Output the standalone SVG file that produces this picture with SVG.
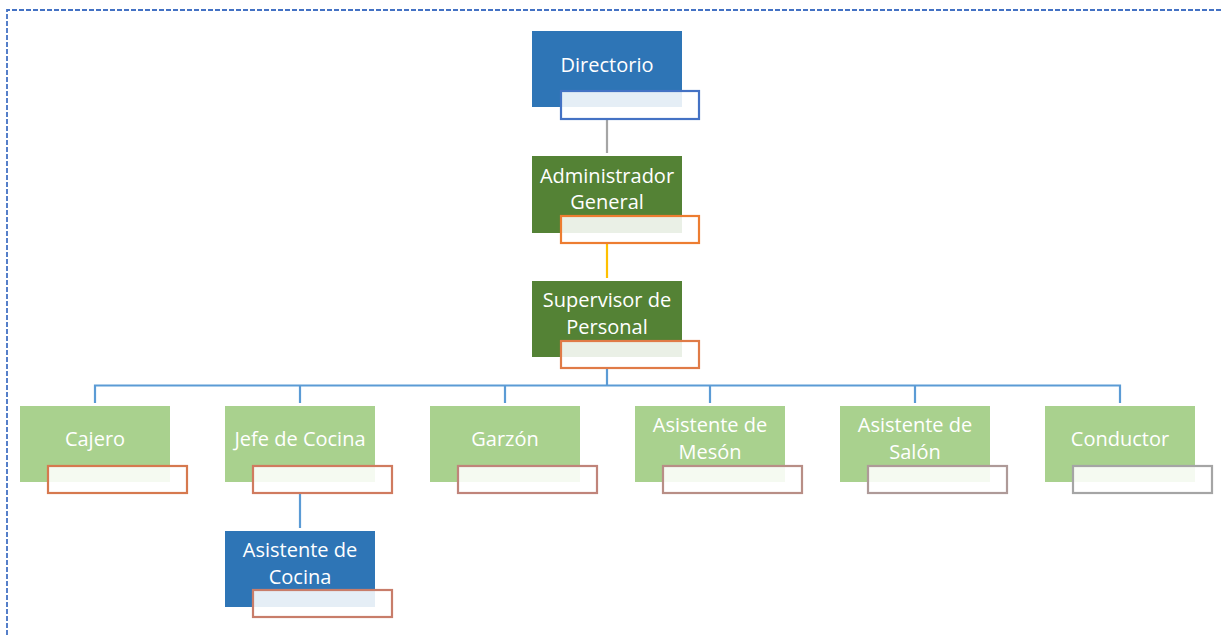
<svg xmlns="http://www.w3.org/2000/svg" width="1221" height="635" viewBox="0 0 1221 635">
  <style>
    .frame { fill: none; stroke: #4472C4; stroke-width: 1.8; stroke-dasharray: 5 2; }
    .link { fill: none; stroke-width: 2.2; }
    .blue { fill: #2E75B6; }
    .dark { fill: #548235; }
    .light { fill: #A9D18E; }
    .tag { fill: #FFFFFF; fill-opacity: 0.88; stroke-width: 2.2; }
    text { font-family: "Open Sans", "Liberation Sans", Arial, sans-serif; font-size: 20px; fill: #FFFFFF; text-anchor: middle; }
  </style>

  <rect width="1221" height="635" fill="#FFFFFF"/>

  <!-- dashed frame -->
  <path class="frame" d="M7,635 V10 H1221"/>

  <!-- connectors -->
  <g id="connectors">
    <path class="link" stroke="#A5A5A5" d="M607,119 V153"/>
    <path class="link" stroke="#FFC000" d="M607,243 V278"/>
    <path class="link" stroke="#5B9BD5" d="M607,368 V385.5 M95,403 V385.5 H1120 V403 M300,385.5 V403 M505,385.5 V403 M710,385.5 V403 M915,385.5 V403"/>
    <path class="link" stroke="#5B9BD5" d="M300,493 V528"/>
  </g>

  <g id="directorio">
    <rect class="blue" x="532" y="31" width="150" height="76"/>
    <text x="607" y="72">Directorio</text>
    <rect class="tag" stroke="#4472C4" x="561" y="91" width="138" height="28"/>
  </g>

  <g id="administrador">
    <rect class="dark" x="532" y="156" width="150" height="77"/>
    <text x="607" y="183">Administrador</text>
    <text x="607" y="209">General</text>
    <rect class="tag" stroke="#ED7D31" x="561" y="216" width="138" height="27"/>
  </g>

  <g id="supervisor">
    <rect class="dark" x="532" y="281" width="150" height="76"/>
    <text x="607" y="307">Supervisor de</text>
    <text x="607" y="334">Personal</text>
    <rect class="tag" stroke="#E07B47" x="561" y="341" width="138" height="27"/>
  </g>

  <g id="cajero">
    <rect class="light" x="20" y="406" width="150" height="76"/>
    <text x="95" y="446">Cajero</text>
    <rect class="tag" stroke="#D6794F" x="48" y="466" width="139" height="27"/>
  </g>

  <g id="jefe-cocina">
    <rect class="light" x="225" y="406" width="150" height="76"/>
    <text x="300" y="446">Jefe de Cocina</text>
    <rect class="tag" stroke="#D07B5F" x="253" y="466" width="139" height="27"/>
  </g>

  <g id="garzon">
    <rect class="light" x="430" y="406" width="150" height="76"/>
    <text x="505" y="446">Garzón</text>
    <rect class="tag" stroke="#C0847A" x="458" y="466" width="139" height="27"/>
  </g>

  <g id="asistente-meson">
    <rect class="light" x="635" y="406" width="150" height="76"/>
    <text x="710" y="432">Asistente de</text>
    <text x="710" y="459">Mesón</text>
    <rect class="tag" stroke="#B88E86" x="663" y="466" width="139" height="27"/>
  </g>

  <g id="asistente-salon">
    <rect class="light" x="840" y="406" width="150" height="76"/>
    <text x="915" y="432">Asistente de</text>
    <text x="915" y="459">Salón</text>
    <rect class="tag" stroke="#AE9A98" x="868" y="466" width="139" height="27"/>
  </g>

  <g id="conductor">
    <rect class="light" x="1045" y="406" width="150" height="76"/>
    <text x="1120" y="446">Conductor</text>
    <rect class="tag" stroke="#A5A5A5" x="1073" y="466" width="139" height="27"/>
  </g>

  <g id="asistente-cocina">
    <rect class="blue" x="225" y="531" width="150" height="76"/>
    <text x="300" y="557">Asistente de</text>
    <text x="300" y="584">Cocina</text>
    <rect class="tag" stroke="#C87D6A" x="253" y="590" width="139" height="27"/>
  </g>
</svg>
